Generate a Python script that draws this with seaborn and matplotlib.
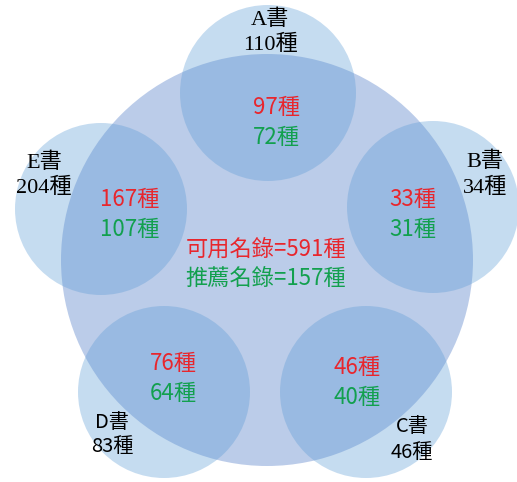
import matplotlib
matplotlib.use("Agg")
import matplotlib.pyplot as plt
from matplotlib.patches import Circle
import seaborn as sns

sns.set_theme(style="white")
plt.rcParams['font.family'] = ['Noto Sans CJK TC', 'DejaVu Sans']

# Data
books = ["A書", "B書", "C書", "D書", "E書"]
totals = [110, 34, 46, 83, 204]
usable = [97, 33, 46, 76, 167]
recommended = [72, 31, 40, 64, 107]
usable_total = 591
recommended_total = 157

# Layout (pixels)
centers = [(268, 93), (433, 207), (366, 392), (164, 392), (101, 209)]
radii = [88, 86, 86, 86, 86]
big_center = (267, 260)
big_r = 206
label_pos = [(270, 20, 45), (485, 162, 188), (412, 427, 452), (112, 422, 447), (44, 163, 188)]
label_serif = [True, True, False, False, True]
inner_pos = [(276, 108, 137), (413, 200, 229), (357, 367, 397), (173, 363, 393), (130, 200, 230)]

RED = "#e8262d"
GREEN = "#12a04e"
SERIF = ['Liberation Serif', 'Noto Sans CJK TC']
SANS = ['Noto Sans CJK TC', 'DejaVu Sans']

fig = plt.figure(figsize=(5.17, 4.82), dpi=100)
ax = fig.add_axes([0, 0, 1, 1])
ax.set_xlim(0, 517)
ax.set_ylim(482, 0)
ax.set_aspect('equal')
ax.axis('off')

ax.add_patch(Circle(big_center, big_r, facecolor="#4472c4", alpha=0.36, edgecolor='none', zorder=1))
for (cx, cy), r in zip(centers, radii):
    ax.add_patch(Circle((cx, cy), r, facecolor="#5b9bd5", alpha=0.35, edgecolor='none', zorder=2))

for b, t, (x, y1, y2), serif in zip(books, totals, label_pos, label_serif):
    fam = SERIF if serif else SANS
    fs = 16 if serif else 14.5
    ax.text(x, y1, b, ha='center', va='center', fontsize=fs, color='black', family=fam, zorder=5)
    ax.text(x, y2, f"{t}種", ha='center', va='center', fontsize=fs, color='black', family=fam, zorder=5)

for u, r, (x, y1, y2) in zip(usable, recommended, inner_pos):
    ax.text(x, y1, f"{u}種", ha='center', va='center', fontsize=16, color=RED, zorder=5)
    ax.text(x, y2, f"{r}種", ha='center', va='center', fontsize=16, color=GREEN, zorder=5)

ax.text(266, 250, f"可用名錄={usable_total}種", ha='center', va='center', fontsize=16, color=RED, zorder=5)
ax.text(266, 279, f"推薦名錄={recommended_total}種", ha='center', va='center', fontsize=16, color=GREEN, zorder=5)

fig.savefig("out.png", dpi=100)
